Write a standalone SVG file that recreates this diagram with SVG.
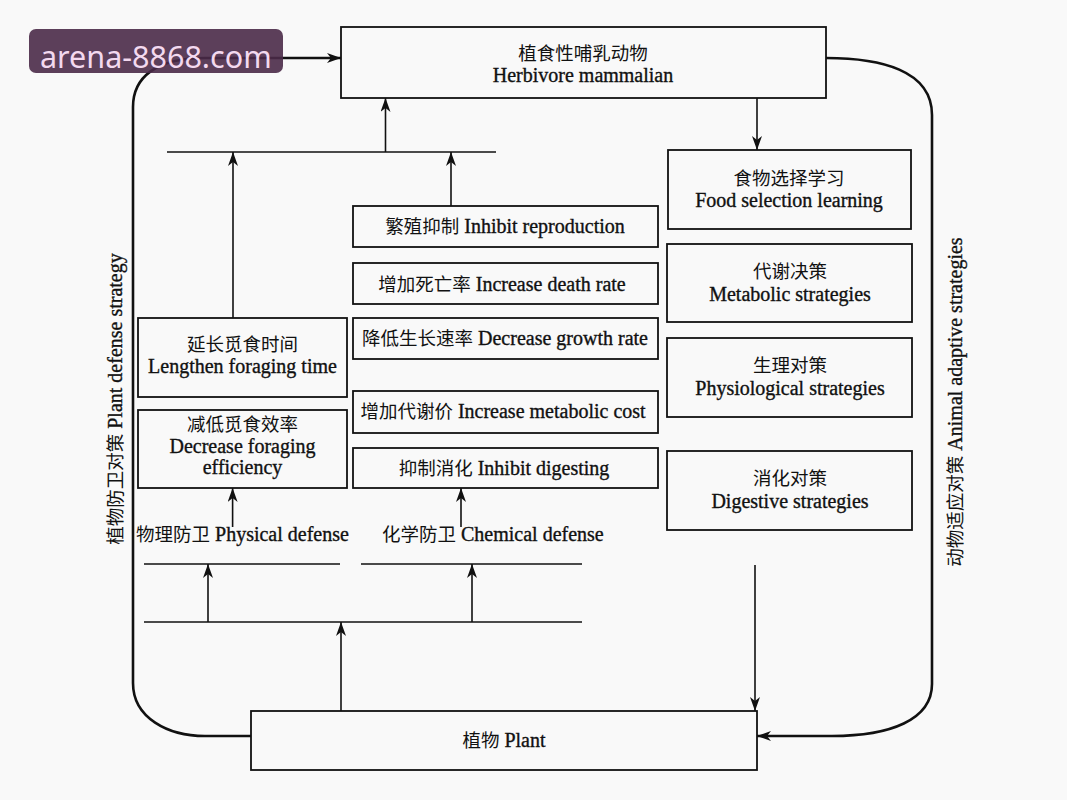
<svg xmlns="http://www.w3.org/2000/svg" width="1067" height="800" viewBox="0 0 1067 800">
<defs>
<marker id="ah" markerWidth="14" markerHeight="10" refX="14" refY="5" orient="auto" markerUnits="userSpaceOnUse">
<path d="M0,0 L14,5 L0,10 L4,5 Z" fill="#111"/>
</marker>
<style>
.box{fill:none;stroke:#111;stroke-width:1.8}
.ln{fill:none;stroke:#111;stroke-width:1.6}
.cv{fill:none;stroke:#111;stroke-width:2.6}
.t,.ts{font-family:"Liberation Serif","Noto Sans CJK SC",serif;font-size:20px;fill:#111;stroke:#111;stroke-width:0.35}
.t{text-anchor:middle}
.c{font-size:18.5px;stroke-width:0}
</style>
</defs>
<rect width="1067" height="800" fill="#f9f9f9"/>

<g id="connectors">
<path class="cv" d="M133,683 L133,107 C133,78 155,58 205,58 L341,58" marker-end="url(#ah)"/>
<path class="cv" d="M133,683 C133,718 168,736 205,736 L251,736"/>
<path class="cv" d="M826,58 C880,58 932,70 932,115 L932,684 C932,720 890,736 832,736 L757,736" marker-end="url(#ah)"/>
<path class="ln" d="M167,152 L496,152"/>
<path class="ln" d="M385.5,152 L385.5,98" marker-end="url(#ah)"/>
<path class="ln" d="M233,318 L233,152" marker-end="url(#ah)"/>
<path class="ln" d="M451,206 L451,152" marker-end="url(#ah)"/>
<path class="ln" d="M757,98 L757,150" marker-end="url(#ah)"/>
<path class="ln" d="M232.6,527 L232.6,488" marker-end="url(#ah)"/>
<path class="ln" d="M461,527 L461,488" marker-end="url(#ah)"/>
<path class="ln" d="M144,564 L340,564 M361,564 L582,564 M144,622 L582,622"/>
<path class="ln" d="M208,622 L208,564" marker-end="url(#ah)"/>
<path class="ln" d="M472,622 L472,564" marker-end="url(#ah)"/>
<path class="ln" d="M341,711 L341,622" marker-end="url(#ah)"/>
<path class="ln" d="M755,565 L755,711" marker-end="url(#ah)"/>
</g>

<g id="herbivore">
<rect class="box" x="341" y="27" width="485" height="71"/>
<text class="t c" x="583" y="60">植食性哺乳动物</text>
<text class="t" x="583" y="82">Herbivore mammalian</text>
</g>
<g id="plant">
<rect class="box" x="251" y="711" width="506" height="59"/>
<text class="t" x="504" y="747"><tspan class="c">植物</tspan> Plant</text>
</g>

<g id="food-selection">
<rect class="box" x="668" y="150" width="243" height="79"/>
<text class="t c" x="789" y="185">食物选择学习</text>
<text class="t" x="789" y="207">Food selection learning</text>
</g>
<g id="metabolic-strategies">
<rect class="box" x="667" y="244" width="245" height="78"/>
<text class="t c" x="790" y="278">代谢决策</text>
<text class="t" x="790" y="301">Metabolic strategies</text>
</g>
<g id="physiological-strategies">
<rect class="box" x="667" y="338" width="245" height="79"/>
<text class="t c" x="790" y="372">生理对策</text>
<text class="t" x="790" y="395">Physiological strategies</text>
</g>
<g id="digestive-strategies">
<rect class="box" x="667" y="451" width="245" height="79"/>
<text class="t c" x="790" y="485">消化对策</text>
<text class="t" x="790" y="508">Digestive strategies</text>
</g>

<g id="lengthen">
<rect class="box" x="138" y="318" width="209" height="79"/>
<text class="t c" x="242.5" y="351">延长觅食时间</text>
<text class="t" x="242.5" y="373">Lengthen foraging time</text>
</g>
<g id="decrease-efficiency">
<rect class="box" x="138" y="410" width="209" height="78"/>
<text class="t c" x="242.5" y="431">减低觅食效率</text>
<text class="t" x="242.5" y="453">Decrease foraging</text>
<text class="t" x="242.5" y="474">efficiency</text>
</g>

<g id="inhibit-reproduction">
<rect class="box" x="353" y="206" width="305" height="41"/>
<text class="t" x="505" y="233"><tspan class="c">繁殖抑制</tspan> Inhibit reproduction</text>
</g>
<g id="death-rate">
<rect class="box" x="353" y="263" width="305" height="41"/>
<text class="t" x="502" y="291"><tspan class="c">增加死亡率</tspan> Increase death rate</text>
</g>
<g id="growth-rate">
<rect class="box" x="353" y="318" width="305" height="41"/>
<text class="t" x="505" y="345"><tspan class="c">降低生长速率</tspan> Decrease growth rate</text>
</g>
<g id="metabolic-cost">
<rect class="box" x="353" y="391" width="305" height="42"/>
<text class="t" x="503" y="418"><tspan class="c">增加代谢价</tspan> Increase metabolic cost</text>
</g>
<g id="inhibit-digesting">
<rect class="box" x="353" y="448" width="305" height="40"/>
<text class="t" x="504" y="475"><tspan class="c">抑制消化</tspan> Inhibit digesting</text>
</g>

<g id="physical-defense">
<text class="ts" x="136" y="541"><tspan class="c">物理防卫</tspan> Physical defense</text>
</g>
<g id="chemical-defense">
<text class="ts" x="382" y="541"><tspan class="c">化学防卫</tspan> Chemical defense</text>
</g>

<g id="plant-defense-label">
<text class="t" x="122" y="399" transform="rotate(-90 122 399)"><tspan class="c">植物防卫对策</tspan> Plant defense strategy</text>
</g>
<g id="animal-adaptive-label">
<text class="t" x="962" y="402" transform="rotate(-90 962 402)"><tspan class="c">动物适应对策</tspan> Animal adaptive strategies</text>
</g>

<g id="watermark">
<rect x="29" y="29" width="254" height="44" rx="7" fill="#4a2a48" fill-opacity="0.9"/>
<text x="40" y="68" font-family="Noto Sans, sans-serif" font-size="30.5" fill="#f3d9ef">arena-8868.com</text>
</g>
</svg>
